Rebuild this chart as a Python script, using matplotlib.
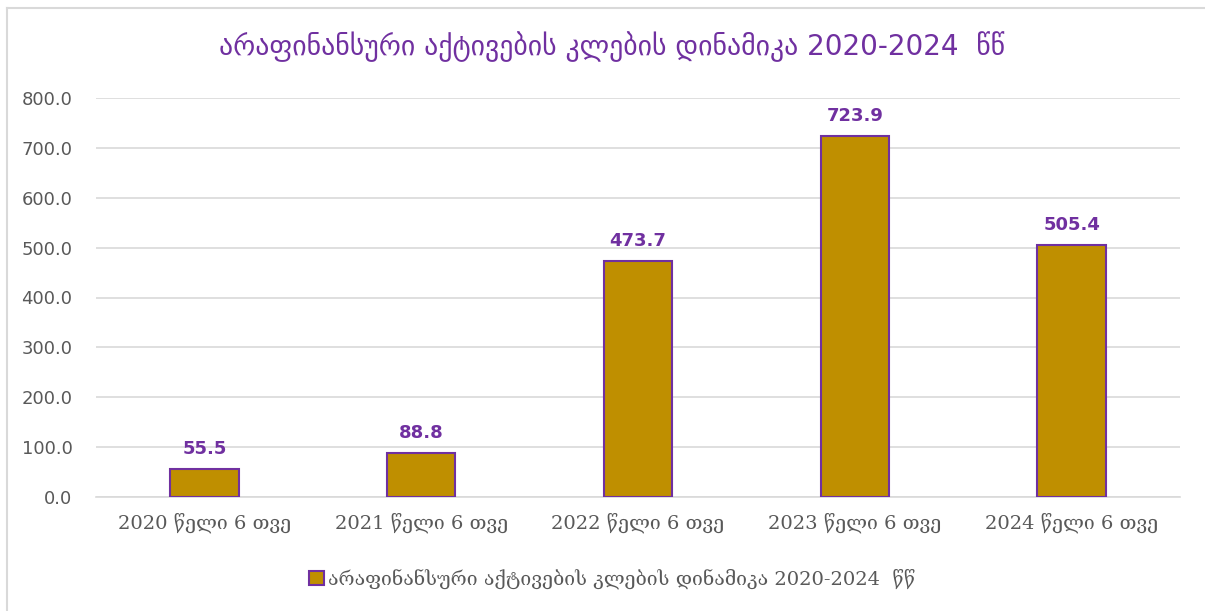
import matplotlib.pyplot as plt
from matplotlib.lines import Line2D

categories = ['2020 წელი 6 თვე', '2021 წელი 6 თვე', '2022 წელი 6 თვე',
              '2023 წელი 6 თვე', '2024 წელი 6 თვე']
values = [55.5, 88.8, 473.7, 723.9, 505.4]
series_name = 'არაფინანსური აქტივების კლების დინამიკა 2020-2024  წწ'
title = 'არაფინანსური აქტივების კლების დინამიკა 2020-2024  წწ'
yticks = [0, 100, 200, 300, 400, 500, 600, 700, 800]

gold = '#BF8F00'
purple = '#7030A0'
gray_text = '#595959'

plt.rcParams['font.family'] = ['DejaVu Sans']

fig = plt.figure(figsize=(12.05, 6.11), dpi=100)
ax = fig.add_axes([96 / 1205, 1 - 497 / 611, (1180 - 96) / 1205, (497 - 98) / 611])

x = range(len(categories))
bars = ax.bar(x, values, width=0.315, color=gold, edgecolor=purple, linewidth=1.5,
              label=series_name, zorder=3)

# value labels above the bars
for xi, v in zip(x, values):
    ax.annotate(f'{v:.1f}', (xi, v), xytext=(0, 8), textcoords='offset points',
                ha='center', va='bottom', color=purple, fontsize=13,
                fontweight='bold')

ax.set_xlim(-0.5, len(categories) - 0.5)
ax.set_ylim(0, 800)
ax.set_yticks(yticks)
ax.set_yticklabels([f'{t:.1f}' for t in yticks], color=gray_text, fontsize=13)
ax.set_xticks(list(x))
ax.set_xticklabels(categories, color=gray_text, fontsize=14,
                   family=['DejaVu Serif', 'DejaVu Sans'])
ax.tick_params(axis='both', length=0)
ax.tick_params(axis='x', pad=11)
ax.tick_params(axis='y', pad=17)
ax.grid(axis='y', color='#D9D9D9', linewidth=1.2, zorder=0)
for s in ['top', 'right', 'left']:
    ax.spines[s].set_visible(False)
ax.spines['bottom'].set_color('#D9D9D9')
ax.spines['bottom'].set_linewidth(1.2)

fig.text(612 / 1205, 1 - 47 / 611, title, ha='center', va='center', color=purple,
         fontsize=20)

ax.legend(loc='center', bbox_to_anchor=(0.476, -0.205), frameon=False,
          handlelength=0.75, handleheight=0.75, handletextpad=0.2,
          labelcolor=gray_text, prop={'family': ['DejaVu Serif', 'DejaVu Sans'], 'size': 14})

# chart border (only left and top edges visible)
fig.add_artist(Line2D([6.5 / 1205, 6.5 / 1205], [0, 1 - 8 / 611], color='#D9D9D9', lw=1.5))
fig.add_artist(Line2D([6.5 / 1205, 1], [1 - 8 / 611, 1 - 8 / 611], color='#D9D9D9', lw=1.5))

fig.savefig('out.png', dpi=100)
